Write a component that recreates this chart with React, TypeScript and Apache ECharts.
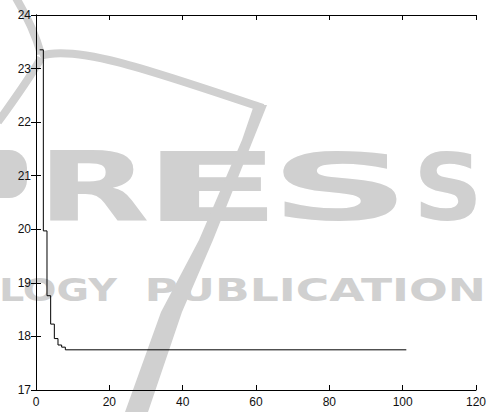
import React, { useEffect, useRef } from "react";
import * as echarts from "echarts";

// Step change points (stairs plot): iteration -> value
const iterations = [1, 2, 3, 4, 5, 6, 7, 8, 101];
const values = [23.35, 19.97, 18.76, 18.23, 17.96, 17.84, 17.8, 17.75, 17.75];
const xTicks = { min: 0, max: 120, interval: 20 };
const yTicks = { min: 17, max: 24, interval: 1 };
// Watermark pieces (background decoration of the reference image)
const bigLetters = ["R", "E", "S", "S"];
const smallWords = ["LOGY", "PUBLICATION"];

const WM_FONT = "DejaVu Sans";
const GRAY = "#d0d0d0";

function fitText(
  text: string,
  box: [number, number, number, number],
  fontSize: number,
  hAdj = 1,
  dy = 0
) {
  const [x0, y0, x1, y1] = box;
  const c = document.createElement("canvas").getContext("2d")!;
  c.font = `bold ${fontSize}px "${WM_FONT}"`;
  c.textBaseline = "middle";
  const m = c.measureText(text);
  const l = m.actualBoundingBoxLeft;
  const r = m.actualBoundingBoxRight;
  const a = m.actualBoundingBoxAscent;
  const d = m.actualBoundingBoxDescent;
  const sx = (x1 - x0) / (l + r);
  const sy = (y1 - y0) / (a + d);
  return {
    type: "text",
    z: -10,
    x: x0 + l * sx,
    y: y0 + a * sy - 0.09 * fontSize * sy + dy,
    scaleX: sx,
    scaleY: sy * hAdj,
    silent: true,
    style: {
      text,
      fontSize,
      fontWeight: "bold",
      fontFamily: WM_FONT,
      fill: GRAY,
      align: "left",
      verticalAlign: "middle",
    },
  };
}

export default function App() {
  const ref = useRef<HTMLDivElement>(null);
  useEffect(() => {
    if (!ref.current) return;
    const chart = echarts.init(ref.current, null, { renderer: "svg" });
    const axisCommon = {
      axisLine: { show: true, lineStyle: { color: "#000", width: 1 } },
      axisTick: { show: true, inside: true, length: 5, lineStyle: { color: "#000" } },
      splitLine: { show: false },
    };
    const labelStyle = {
      color: "#111",
      fontSize: 12,
      fontFamily: "Liberation Sans, Arial, sans-serif",
    };
    const bigBoxes: [number, number, number, number][] = [
      [50, 149, 147, 228],
      [160, 149, 267, 228],
      [283, 149, 397, 228],
      [420, 149, 476, 228],
    ];
    const smallBoxes: [number, number, number, number][] = [
      [2, 277, 118, 303],
      [148, 277, 482, 303],
    ];
    const wm: any[] = [
      ...bigLetters.map((t, i) => fitText(t, bigBoxes[i], 100, 0.89, -2.5)),
      ...smallWords.map((t, i) => fitText(t, smallBoxes[i], 40, 1, -1.5)),
      {
        type: "rect",
        z: -10,
        silent: true,
        shape: { x: -20, y: 150, width: 47, height: 48, r: [0, 18, 18, 0] },
        style: { fill: GRAY },
      },
      {
        type: "bezierCurve",
        z: -10,
        silent: true,
        shape: { x1: 40, y1: 56, x2: 263, y2: 108, cpx1: 75, cpy1: 44, cpx2: 150, cpy2: 70 },
        style: { stroke: GRAY, lineWidth: 8, fill: null },
      },
      {
        type: "bezierCurve",
        z: -10,
        silent: true,
        shape: { x1: 16, y1: -2, x2: 41, y2: 54, cpx1: 28, cpy1: 18, cpx2: 36, cpy2: 36 },
        style: { stroke: GRAY, lineWidth: 8, fill: null },
      },
      {
        type: "bezierCurve",
        z: -10,
        silent: true,
        shape: { x1: 41, y1: 58, x2: -2, y2: 122, cpx1: 30, cpy1: 78, cpx2: 14, cpy2: 100 },
        style: { stroke: GRAY, lineWidth: 8, fill: null },
      },
      {
        type: "polygon",
        z: -10,
        silent: true,
        shape: {
          points: [
            [254, 105],
            [242, 140],
            [199, 240],
            [161, 312],
            [125, 412],
            [148, 412],
            [182, 312],
            [213, 240],
            [253, 140],
            [267, 105],
          ],
        },
        style: { fill: GRAY },
      },
    ];
    chart.setOption({
      animation: false,
      backgroundColor: "#fff",
      grid: { left: 36, right: 11, top: 15, bottom: 22, containLabel: false },
      graphic: wm,
      xAxis: [
        {
          type: "value",
          position: "bottom",
          ...xTicks,
          ...axisCommon,
          axisLabel: { ...labelStyle, margin: 6 },
        },
        {
          type: "value",
          position: "top",
          ...xTicks,
          ...axisCommon,
          axisLabel: { show: false },
        },
      ],
      yAxis: [
        {
          type: "value",
          position: "left",
          ...yTicks,
          ...axisCommon,
          axisLabel: { ...labelStyle, margin: 5 },
        },
        {
          type: "value",
          position: "right",
          ...yTicks,
          ...axisCommon,
          axisLabel: { show: false },
        },
      ],
      series: [
        {
          type: "line",
          step: "end",
          data: iterations.map((x, i) => [x, values[i]]),
          showSymbol: false,
          lineStyle: { color: "#000", width: 1 },
          z: 5,
        },
      ],
    });
    return () => chart.dispose();
  }, []);
  return <div ref={ref} style={{ width: 489, height: 412, position: "absolute", left: 0, top: 0 }} />;
}
